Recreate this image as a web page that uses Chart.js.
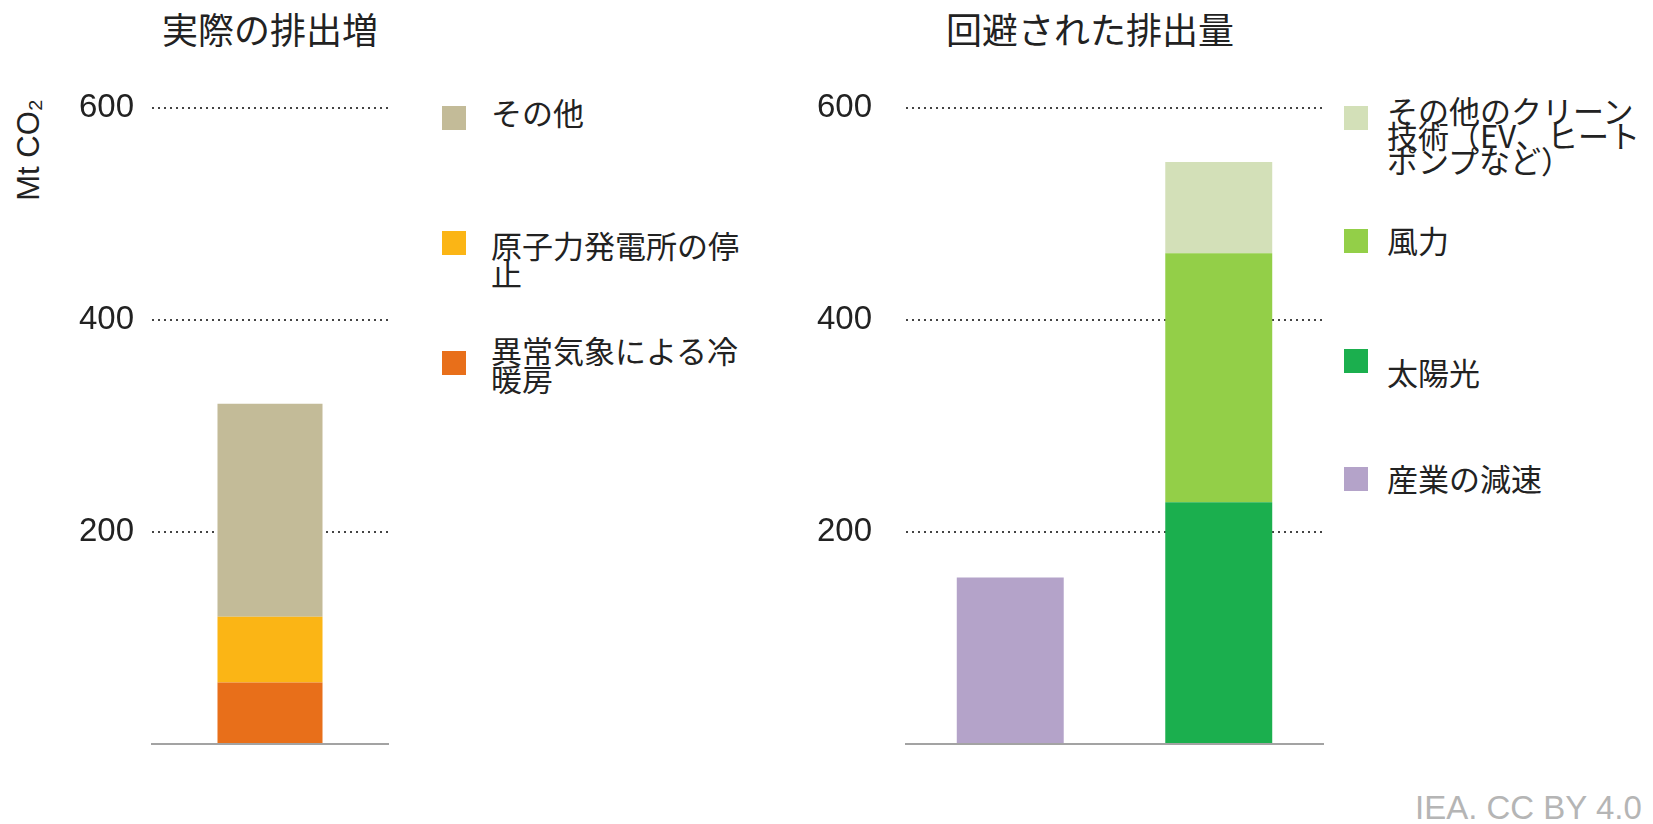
<!DOCTYPE html>
<html>
<head>
<meta charset="utf-8">
<script src="https://cdn.jsdelivr.net/npm/chart.js@4/dist/chart.umd.min.js"></script>
<style>
  body { margin: 0; background: #fff; width: 1653px; height: 824px; overflow: hidden; position: relative;
         font-family: "Noto Sans CJK JP", "Noto Sans", sans-serif; color: #222; }
  canvas { position: absolute; top: 0; }
  .title { position: absolute; top: 6px; font-size: 36px; line-height: 44px; text-align: center; }
  .box { position: absolute; width: 24px; height: 24px; }
  .lbl { position: absolute; font-size: 31px; line-height: 28px; white-space: nowrap; }
  #ytitle { position: absolute; left: 29px; top: 150px; font-family: "Liberation Sans", sans-serif; font-size: 31px;
            transform: translate(-50%, -50%) rotate(-90deg); white-space: nowrap; }
  #credit { position: absolute; left: 1415px; top: 789px; font-family: "Liberation Sans", sans-serif;
            font-size: 33px; color: #b5b5b5; white-space: nowrap; }
</style>
</head>
<body>
<div class="title" style="left:130px; width:280px;">実際の排出増</div>
<div class="title" style="left:900px; width:380px;">回避された排出量</div>
<div id="ytitle">Mt CO₂</div>
<canvas id="left" width="400" height="824" style="left:0px"></canvas>
<canvas id="right" width="560" height="824" style="left:780px"></canvas>
<div id="legends"></div>
<div id="credit">IEA. CC BY 4.0</div>
<script>
// axis
const yTicks = [200, 400, 600];

// left panel: actual emissions increase (Mt CO2)
const leftCategories = ['実際の排出増'];
const heatCooling = [58];
const nuclearOutage = [62];
const otherIncrease = [201];

// right panel: avoided emissions (Mt CO2)
const rightCategories = ['産業', 'クリーン技術'];
const industrySlowdown = [157, null];
const solar = [null, 228];
const wind = [null, 235];
const otherClean = [null, 86];

const colors = {
    heat: '#E86F1A', nuclear: '#FBB515', other: '#C3BB98',
    industry: '#B4A3C9', solar: '#1BAF4E', wind: '#93CF48', otherClean: '#D3E0B8'
};

function yScale(width, pad) {
    return {
        stacked: true,
        min: 0,
        max: 600,
        afterBuildTicks: function(scale) {
            scale.ticks = [0].concat(yTicks).map(v => ({value: v}));
        },
        afterFit: function(scale) { scale.width = width; },
        ticks: {
            padding: pad,
            color: '#222',
            font: { family: 'Liberation Sans', size: 33 },
            callback: v => v === 0 ? '' : v
        },
        grid: {
            drawTicks: false,
            lineWidth: 2,
            borderDash: [2, 4],
            color: ctx => ctx.tick && ctx.tick.value === 0 ? 'rgba(0,0,0,0)' : '#444'
        },
        border: { display: false, dash: [2, 4] }
    };
}

function xScale() {
    return {
        stacked: true,
        ticks: { display: false },
        grid: { display: false, drawTicks: false },
        border: { display: true, color: '#a3a3a3', width: 2 }
    };
}

function baseOptions(yWidth, yPad, rightPad) {
    return {
        responsive: false,
        animation: false,
        layout: { padding: { top: 108, bottom: 80, left: 0, right: rightPad } },
        plugins: { legend: { display: false }, tooltip: { enabled: false } },
        scales: { x: xScale(), y: yScale(yWidth, yPad) }
    };
}

new Chart(document.getElementById('left').getContext('2d'), {
    type: 'bar',
    data: {
        labels: leftCategories,
        datasets: [
            { label: '異常気象による冷暖房', data: heatCooling, backgroundColor: colors.heat },
            { label: '原子力発電所の停止', data: nuclearOutage, backgroundColor: colors.nuclear },
            { label: 'その他', data: otherIncrease, backgroundColor: colors.other }
        ].map(d => Object.assign(d, { categoryPercentage: 1, barPercentage: 0.445 }))
    },
    options: baseOptions(152, 18, 12)
});

new Chart(document.getElementById('right').getContext('2d'), {
    type: 'bar',
    data: {
        labels: rightCategories,
        datasets: [
            { label: '産業の減速', data: industrySlowdown, backgroundColor: colors.industry },
            { label: '太陽光', data: solar, backgroundColor: colors.solar },
            { label: '風力', data: wind, backgroundColor: colors.wind },
            { label: 'その他のクリーン技術（EV、ヒートポンプなど）', data: otherClean, backgroundColor: colors.otherClean }
        ].map(d => Object.assign(d, { categoryPercentage: 1, barPercentage: 0.513 }))
    },
    options: baseOptions(126, 34, 17)
});

// html legends, lines broken like the original
const legendItems = [
    { lines: ['その他'], color: colors.other, boxX: 442, boxY: 106, textX: 491, textY: 98, lh: 28 },
    { lines: ['原子力発電所の停', '止'], color: colors.nuclear, boxX: 442, boxY: 231, textX: 491, textY: 231, lh: 28 },
    { lines: ['異常気象による冷', '暖房'], color: colors.heat, boxX: 442, boxY: 351, textX: 491, textY: 336, lh: 28 },
    { lines: ['その他のクリーン', '技術（EV、ヒート', 'ポンプなど）'], color: colors.otherClean, boxX: 1344, boxY: 106, textX: 1387, textY: 97, lh: 25 },
    { lines: ['風力'], color: colors.wind, boxX: 1344, boxY: 229, textX: 1387, textY: 226, lh: 28 },
    { lines: ['太陽光'], color: colors.solar, boxX: 1344, boxY: 349, textX: 1387, textY: 358, lh: 28 },
    { lines: ['産業の減速'], color: colors.industry, boxX: 1344, boxY: 467, textX: 1387, textY: 464, lh: 28 }
];
const holder = document.getElementById('legends');
legendItems.forEach(it => {
    const b = document.createElement('div');
    b.className = 'box';
    b.style.left = it.boxX + 'px';
    b.style.top = it.boxY + 'px';
    b.style.background = it.color;
    holder.appendChild(b);
    const t = document.createElement('div');
    t.className = 'lbl';
    t.style.left = it.textX + 'px';
    t.style.top = it.textY + 'px';
    t.style.lineHeight = it.lh + 'px';
    t.innerHTML = it.lines.join('<br>');
    holder.appendChild(t);
});
</script>
</body>
</html>
